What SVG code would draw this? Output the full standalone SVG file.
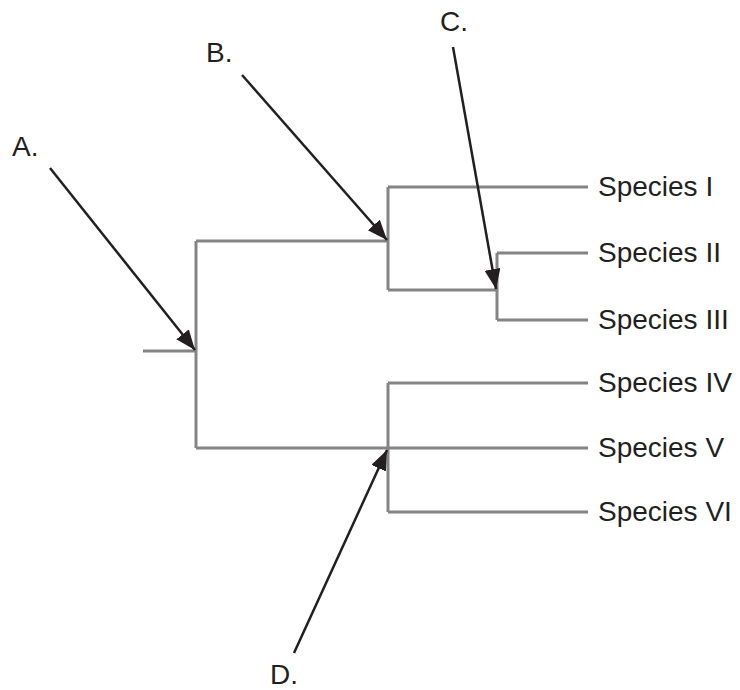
<svg xmlns="http://www.w3.org/2000/svg" width="740" height="690" viewBox="0 0 740 690">
<defs>
<style>
.br{fill:none;stroke:#848484;stroke-width:3;stroke-linecap:butt;stroke-linejoin:miter}
.ar{fill:none;stroke:#231f20;stroke-width:2.5;marker-end:url(#ah)}
.t{font-family:"Liberation Sans",Arial,sans-serif;font-size:28px;fill:#231f20}
</style>
<marker id="ah" markerUnits="userSpaceOnUse" markerWidth="24" markerHeight="20" refX="20" refY="8" orient="auto">
<path d="M0,0 L20,8 L0,16 Z" fill="#231f20"/>
</marker>
</defs>
<rect width="740" height="690" fill="#fff"/>
<g id="tree">
<g id="root"><path class="br" d="M143,351 H196"/></g>
<g id="nodeA"><path class="br" d="M196,241 V448"/></g>
<g id="nodeB"><path class="br" d="M196,241 H388 M388,187 V290"/></g>
<g id="nodeC"><path class="br" d="M388,290 H497 M497,253 V320"/></g>
<g id="nodeD"><path class="br" d="M196,448 H388 M388,383 V512"/></g>
<g id="sp1"><path class="br" d="M388,187 H588"/><text class="t" x="598" y="196">Species I</text></g>
<g id="sp2"><path class="br" d="M497,253 H588"/><text class="t" x="598" y="262">Species II</text></g>
<g id="sp3"><path class="br" d="M497,320 H588"/><text class="t" x="598" y="329">Species III</text></g>
<g id="sp4"><path class="br" d="M388,383 H588"/><text class="t" x="598" y="392">Species IV</text></g>
<g id="sp5"><path class="br" d="M388,448 H588"/><text class="t" x="598" y="457">Species V</text></g>
<g id="sp6"><path class="br" d="M388,512 H588"/><text class="t" x="598" y="521">Species VI</text></g>
</g>
<g id="labelA"><text class="t" x="12" y="156">A.</text></g>
<g id="labelB"><text class="t" x="206" y="62">B.</text></g>
<g id="labelC"><text class="t" x="440" y="31">C.</text></g>
<g id="labelD"><text class="t" x="270" y="684">D.</text></g>
<g id="connectors">
<line class="ar" x1="50" y1="168" x2="195" y2="350"/>
<line class="ar" x1="242" y1="75" x2="387" y2="240"/>
<line class="ar" x1="453" y1="47" x2="496" y2="289"/>
<line class="ar" x1="294" y1="653" x2="387" y2="450"/>
</g>
</svg>
